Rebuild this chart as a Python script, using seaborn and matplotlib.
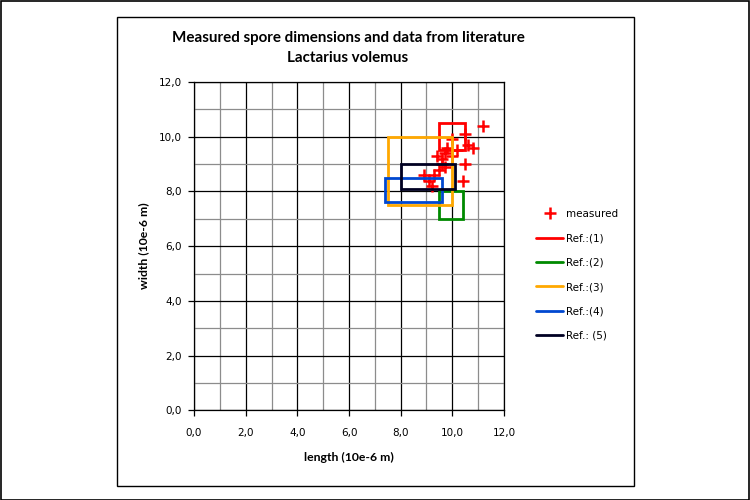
import matplotlib
matplotlib.use("Agg")
import matplotlib.pyplot as plt
import seaborn as sns
import pandas as pd
import numpy as np
from matplotlib.lines import Line2D
from matplotlib.patches import Rectangle
from matplotlib.ticker import FuncFormatter, MultipleLocator

# ---- data ----
measured_length = [11.2, 10.5, 10.0, 10.6, 10.8, 10.2, 9.7, 9.4, 9.6, 10.0,
                   10.5, 9.7, 9.5, 9.3, 8.9, 9.1, 10.4, 9.2, 9.6, 9.8]
measured_width = [10.4, 10.1, 9.9, 9.7, 9.6, 9.5, 9.4, 9.3, 9.2, 9.3,
                  9.0, 8.9, 8.8, 8.6, 8.6, 8.4, 8.4, 8.2, 9.0, 9.6]

ref_labels = ["Ref.:(1)", "Ref.:(2)", "Ref.:(3)", "Ref.:(4)", "Ref.: (5)"]
ref_len_min = [9.5, 9.5, 7.5, 7.4, 8.0]
ref_len_max = [10.5, 10.4, 10.0, 9.6, 10.1]
ref_wid_min = [9.5, 7.0, 7.5, 7.6, 8.1]
ref_wid_max = [10.5, 8.0, 10.0, 8.5, 9.0]
ref_colors = ["#ff0000", "#008a00", "#ffa800", "#0048d0", "#000022"]

title_lines = ["Measured spore dimensions and data from literature", "Lactarius volemus"]
xlabel = "length (10e-6 m)"
ylabel = "width (10e-6 m)"

# ---- style ----
sns.set_theme(style="white")
plt.rcParams['font.family'] = ['DejaVu Sans']
plt.rcParams['text.color'] = 'black'
plt.rcParams['xtick.color'] = 'black'
plt.rcParams['ytick.color'] = 'black'

W, H = 750, 500
fig = plt.figure(figsize=(7.5, 5), dpi=100)
fig.patch.set_facecolor("white")

ax = fig.add_axes([194 / W, 1 - 410.4 / H, 310 / W, 328.4 / H])
ax.set_facecolor("white")

df = pd.DataFrame({"length": measured_length, "width": measured_width})
sns.scatterplot(data=df, x="length", y="width", marker="+", s=80,
                color="#ff0000", linewidth=1.8, ax=ax, legend=False, zorder=3)

for i in range(len(ref_labels)):
    ax.add_patch(Rectangle((ref_len_min[i], ref_wid_min[i]),
                           ref_len_max[i] - ref_len_min[i],
                           ref_wid_max[i] - ref_wid_min[i],
                           fill=False, edgecolor=ref_colors[i], lw=2.0,
                           joinstyle="miter", zorder=4 + i))

ax.set_xlim(0, 12)
ax.set_ylim(0, 12)
ax.xaxis.set_major_locator(MultipleLocator(2))
ax.yaxis.set_major_locator(MultipleLocator(2))
ax.xaxis.set_minor_locator(MultipleLocator(1))
ax.yaxis.set_minor_locator(MultipleLocator(1))
fmt = FuncFormatter(lambda v, p: f"{v:.1f}".replace(".", ","))
ax.xaxis.set_major_formatter(fmt)
ax.yaxis.set_major_formatter(fmt)
ax.set_axisbelow(True)
ax.grid(which="major", color="black", lw=0.9)
ax.grid(which="minor", color="#8c8c8c", lw=0.9)
ax.tick_params(which="major", direction="out", length=4, width=0.9, color="black",
               labelsize=7.5, labelcolor="black", bottom=True, left=True)
ax.tick_params(axis="x", pad=9)
ax.tick_params(axis="y", pad=5)
ax.tick_params(which="minor", length=0)
for s in ax.spines.values():
    s.set_color("black")
    s.set_linewidth(0.9)
ax.set_xlabel("")
ax.set_ylabel("")

# titles and labels
tfam = ["Lato", "DejaVu Sans"]
fig.text(348 / W, 1 - 38 / H, title_lines[0], ha="center", va="center",
         fontsize=10.9, fontweight="bold", family=tfam, color="black")
fig.text(348 / W, 1 - 57.5 / H, title_lines[1], ha="center", va="center",
         fontsize=10.9, fontweight="bold", family=tfam, color="black")
fig.text(349 / W, 1 - 457 / H, xlabel, ha="center", va="center",
         fontsize=8.8, fontweight="bold", family=tfam, color="black")
fig.text(144 / W, 1 - 246 / H, ylabel, ha="center", va="center", rotation=90,
         fontsize=8.8, fontweight="bold", family=tfam, color="black")

# legend
handles = [Line2D([], [], color="#ff0000", marker="+", ls="none", ms=8, mew=1.8)]
for c in ref_colors:
    handles.append(Line2D([], [], color=c, lw=2))
labels = ["measured"] + ref_labels
fig.legend(handles, labels, loc="upper left", bbox_to_anchor=(536 / W, 1 - 209 / H),
           frameon=False, fontsize=7.5, handlelength=2.6, handletextpad=0.25,
           labelspacing=1.38, borderpad=0, borderaxespad=0)

# borders
fig.add_artist(Rectangle((0.5 / W, 0.5 / H), 1 - 1.5 / W, 1 - 1.5 / H, transform=fig.transFigure,
                         fill=False, edgecolor="black", lw=1.2))
fig.add_artist(Rectangle((117 / W, 1 - 486 / H), (634 - 117) / W, (486 - 17) / H,
                         transform=fig.transFigure, fill=False, edgecolor="black", lw=1.0))

fig.savefig("out.png", dpi=100, facecolor="white")
